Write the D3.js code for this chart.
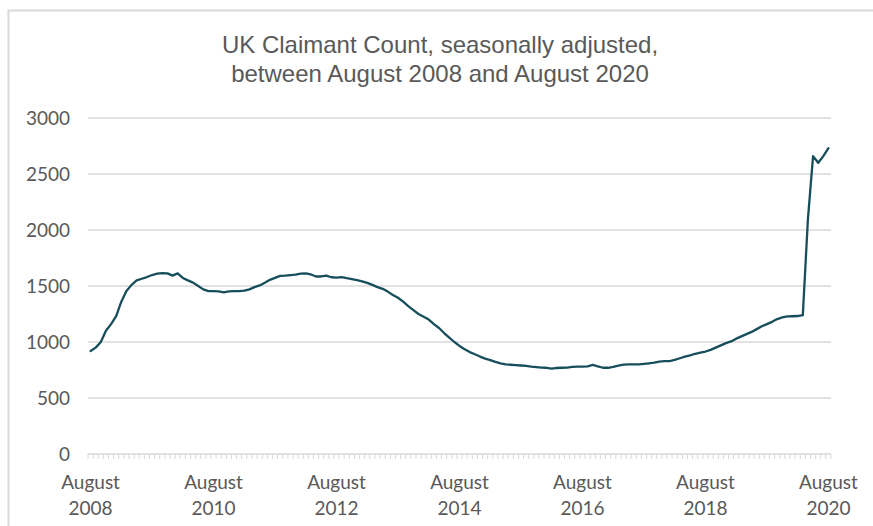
<!DOCTYPE html>
<html>
<head>
<meta charset="utf-8">
<script src="https://cdn.jsdelivr.net/npm/d3@7"></script>
<style>
  body { margin: 0; background: #fff; }
  svg { display: block; }
</style>
</head>
<body>
<svg id="chart"></svg>
<script>
// UK claimant count (thousands), monthly, Aug 2008 .. Aug 2020
var claimants = [
  920, 950, 1000, 1100, 1160, 1230, 1360, 1455, 1510, 1550, 1565, 1580,
  1598, 1610, 1615, 1613, 1593, 1613, 1572, 1550, 1530, 1500, 1470, 1455,
  1455, 1452, 1443, 1452, 1455, 1455, 1458, 1470, 1490, 1505, 1530, 1555,
  1572, 1590, 1592, 1598, 1602, 1610, 1613, 1603, 1585, 1585, 1592, 1578,
  1575, 1580, 1570, 1562, 1552, 1542, 1528, 1510, 1490, 1475, 1450, 1420,
  1395, 1360, 1320, 1285, 1250, 1225, 1200, 1160, 1125, 1080, 1040, 1000,
  965, 935, 910, 890, 870, 852, 838, 822, 810, 800, 797, 793,
  790, 786, 780, 776, 772, 770, 762, 768, 770, 772, 778, 780,
  780, 782, 795, 782, 770, 770, 778, 790, 798, 800, 800, 800,
  805, 810, 815, 825, 830, 830, 840, 855, 870, 880, 895, 905,
  915, 930, 950, 970, 990, 1005, 1030, 1050, 1070, 1090, 1115, 1140,
  1160, 1180, 1205, 1220, 1228, 1230, 1232, 1240, 2100, 2660, 2600, 2660,
  2730
];
var tickMonth = "August";
var tickYears = ["2008", "2010", "2012", "2014", "2016", "2018", "2020"];
var yTicks = [0, 500, 1000, 1500, 2000, 2500, 3000];
var titleLines = ["UK Claimant Count, seasonally adjusted,", "between August 2008 and August 2020"];

var width = 873, height = 526;
var plot = { left: 88, right: 831, top: 118, bottom: 454 };

var svg = d3.select("#chart")
  .attr("width", width)
  .attr("height", height);

// chart frame (cut off at right and bottom like the screenshot)
svg.append("rect")
  .attr("x", 8.5).attr("y", 10.5)
  .attr("width", 900).attr("height", 600)
  .attr("fill", "#fff")
  .attr("stroke", "#d9d9d9")
  .attr("stroke-width", 2);

// title
svg.append("text")
  .attr("x", 440)
  .attr("text-anchor", "middle")
  .attr("font-family", "Liberation Sans, Arial, sans-serif")
  .attr("font-size", 24)
  .attr("fill", "#595959")
  .selectAll("tspan")
  .data(titleLines).enter()
  .append("tspan")
    .attr("x", 440)
    .attr("y", function(d, i) { return 53 + i * 29; })
    .text(function(d) { return d; });

var x = d3.scaleBand()
  .domain(d3.range(claimants.length))
  .range([plot.left, plot.right])
  .padding(0);

var y = d3.scaleLinear()
  .domain([0, 3000])
  .range([plot.bottom, plot.top]);

// gridlines
svg.append("g")
  .selectAll("line")
  .data(yTicks.filter(function(d) { return d > 0; })).enter()
  .append("line")
    .attr("x1", plot.left).attr("x2", plot.right)
    .attr("y1", function(d) { return y(d); })
    .attr("y2", function(d) { return y(d); })
    .attr("stroke", "#d9d9d9")
    .attr("stroke-width", 1.3);

// y axis labels
var yAxis = svg.append("g")
  .attr("transform", "translate(" + (plot.left - 6) + ",0)")
  .call(d3.axisLeft(y).tickValues(yTicks).tickFormat(d3.format("d")).tickSize(0).tickPadding(12));
yAxis.select(".domain").remove();
yAxis.selectAll("text")
  .attr("font-family", "Lato, Calibri, sans-serif")
  .attr("font-size", 19)
  .attr("fill", "#595959");

// x axis: line + month minor ticks
var xAxis = svg.append("g")
  .attr("transform", "translate(0," + plot.bottom + ")");
xAxis.append("line")
  .attr("x1", plot.left).attr("x2", plot.right)
  .attr("stroke", "#d9d9d9").attr("stroke-width", 1.3);
xAxis.selectAll(".mtick")
  .data(d3.range(claimants.length + 1)).enter()
  .append("line")
    .attr("class", "mtick")
    .attr("x1", function(d) { return plot.left + d * x.step(); })
    .attr("x2", function(d) { return plot.left + d * x.step(); })
    .attr("y1", 0).attr("y2", 5)
    .attr("stroke", "#d9d9d9")
    .attr("stroke-width", 1);

// x labels every 24 months
var labelIdx = tickYears.map(function(d, i) { return i * 24; });
var lab = xAxis.selectAll(".xlab")
  .data(labelIdx).enter()
  .append("text")
    .attr("class", "xlab")
    .attr("text-anchor", "middle")
    .attr("font-family", "Lato, Calibri, sans-serif")
    .attr("font-size", 19)
    .attr("fill", "#595959");
lab.append("tspan")
  .attr("x", function(d) { return x(d) + x.bandwidth() / 2; })
  .attr("y", 35)
  .text(tickMonth);
lab.append("tspan")
  .attr("x", function(d) { return x(d) + x.bandwidth() / 2; })
  .attr("y", 61)
  .text(function(d, i) { return tickYears[i]; });

// the series line
var line = d3.line()
  .x(function(d, i) { return x(i) + x.bandwidth() / 2; })
  .y(function(d) { return y(d); });

svg.append("path")
  .datum(claimants)
  .attr("d", line)
  .attr("fill", "none")
  .attr("stroke", "#174e5c")
  .attr("stroke-width", 2.3)
  .attr("stroke-linejoin", "round")
  .attr("stroke-linecap", "round");
</script>
</body>
</html>
